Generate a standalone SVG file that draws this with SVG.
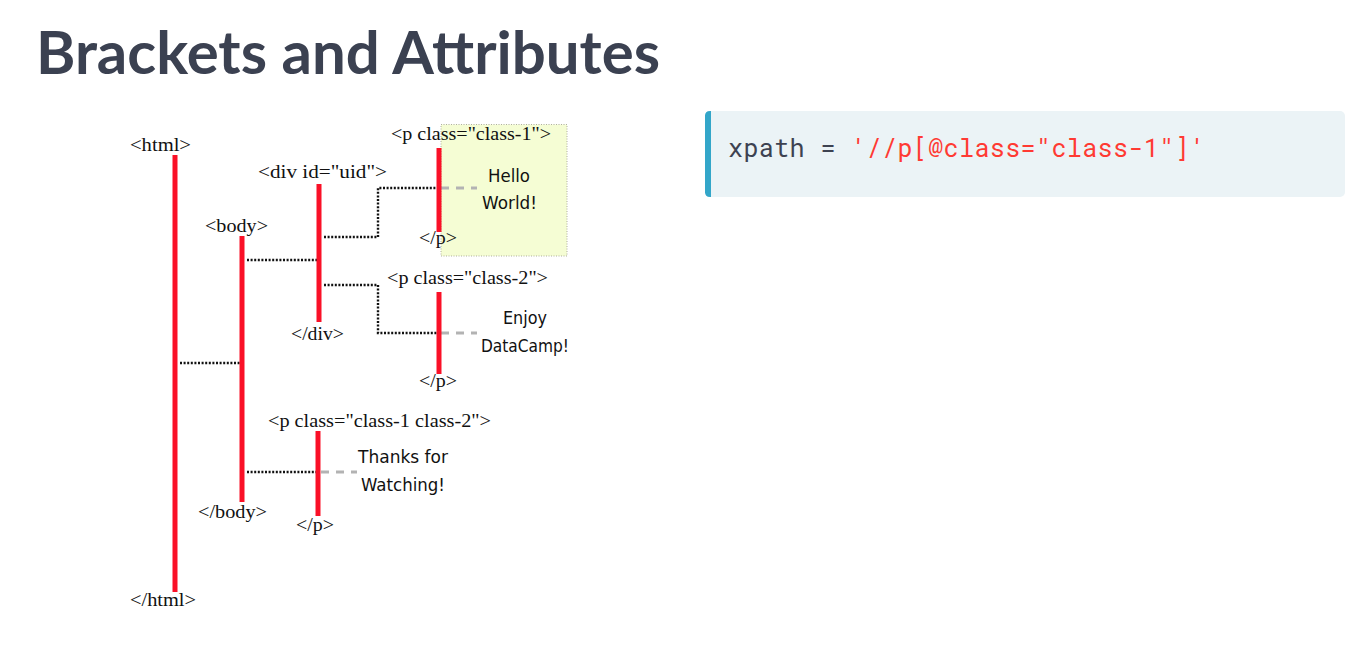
<svg xmlns="http://www.w3.org/2000/svg" width="1356" height="650" viewBox="0 0 1356 650">
  <defs>
    <style>
      .title { font-family: Lato, "Noto Sans", sans-serif; font-weight: 700; font-size: 60px; fill: #3b4151; }
      .tag { font-family: "Liberation Serif", "DejaVu Serif", serif; font-size: 19px; fill: #111; text-anchor: middle; }
      .txt { font-family: "DejaVu Sans", "Noto Sans", sans-serif; font-size: 17px; fill: #111; text-anchor: middle; }
      .bar { stroke: #fa1027; stroke-width: 5; fill: none; }
      .dot { stroke: #111; stroke-width: 2.4; stroke-dasharray: 2 1.6; fill: none; }
      .dash { stroke: #b3b3b3; stroke-width: 2.8; stroke-dasharray: 8 7; fill: none; }
      .code { font-family: "Roboto Mono", "DejaVu Sans Mono", monospace; font-size: 25px; }
    </style>
  </defs>

  <rect width="1356" height="650" fill="#ffffff"/>

  <text class="title" x="36" y="74" textLength="624" lengthAdjust="spacingAndGlyphs">Brackets and Attributes</text>

  <!-- highlight behind the selected paragraph -->
  <rect x="441" y="124.5" width="126" height="131.5" fill="#f5fdd4" stroke="#9a9a8a" stroke-width="0.8" stroke-dasharray="1 1.5"/>

  <!-- connectors -->
  <g id="connectors">
    <path class="dot" d="M180 363 H240"/>
    <path class="dot" d="M247 260 H317"/>
    <path class="dot" d="M324 237 H378 V188 H437"/>
    <path class="dot" d="M324 285 H378 V333 H437"/>
    <path class="dot" d="M247 472 H316"/>
    <path class="dash" d="M441 188 H477"/>
    <path class="dash" d="M441 333 H477"/>
    <path class="dash" d="M321 472 H357"/>
  </g>

  <g id="html">
    <line class="bar" x1="175" y1="155" x2="175" y2="592"/>
    <text class="tag" x="160.5" y="151" textLength="61" lengthAdjust="spacingAndGlyphs">&lt;html&gt;</text>
    <text class="tag" x="163" y="606" textLength="66" lengthAdjust="spacingAndGlyphs">&lt;/html&gt;</text>
  </g>

  <g id="body">
    <line class="bar" x1="242" y1="236" x2="242" y2="502"/>
    <text class="tag" x="236.5" y="232" textLength="63" lengthAdjust="spacingAndGlyphs">&lt;body&gt;</text>
    <text class="tag" x="232.5" y="518" textLength="69" lengthAdjust="spacingAndGlyphs">&lt;/body&gt;</text>
  </g>

  <g id="div">
    <line class="bar" x1="319" y1="184" x2="319" y2="322"/>
    <text class="tag" x="322.5" y="178" textLength="129" lengthAdjust="spacingAndGlyphs">&lt;div id="uid"&gt;</text>
    <text class="tag" x="317.5" y="340" textLength="53" lengthAdjust="spacingAndGlyphs">&lt;/div&gt;</text>
  </g>

  <g id="p-class-1">
    <line class="bar" x1="439" y1="148" x2="439" y2="232"/>
    <text class="tag" x="471" y="140" textLength="160" lengthAdjust="spacingAndGlyphs">&lt;p class="class-1"&gt;</text>
    <text class="tag" x="438" y="244" textLength="38" lengthAdjust="spacingAndGlyphs">&lt;/p&gt;</text>
    <text class="txt" x="509" y="182" textLength="42" lengthAdjust="spacingAndGlyphs">Hello</text>
    <text class="txt" x="509.5" y="209" textLength="55" lengthAdjust="spacingAndGlyphs">World!</text>
  </g>

  <g id="p-class-2">
    <line class="bar" x1="439" y1="292" x2="439" y2="374"/>
    <text class="tag" x="467.5" y="284" textLength="161" lengthAdjust="spacingAndGlyphs">&lt;p class="class-2"&gt;</text>
    <text class="tag" x="438" y="387" textLength="38" lengthAdjust="spacingAndGlyphs">&lt;/p&gt;</text>
    <text class="txt" x="525" y="324" textLength="44" lengthAdjust="spacingAndGlyphs">Enjoy</text>
    <text class="txt" x="525" y="352" textLength="88" lengthAdjust="spacingAndGlyphs">DataCamp!</text>
  </g>

  <g id="p-class-1-2">
    <line class="bar" x1="318" y1="431" x2="318" y2="516"/>
    <text class="tag" x="379.5" y="427" textLength="223" lengthAdjust="spacingAndGlyphs">&lt;p class="class-1 class-2"&gt;</text>
    <text class="tag" x="315" y="531" textLength="38" lengthAdjust="spacingAndGlyphs">&lt;/p&gt;</text>
    <text class="txt" x="403" y="463" textLength="90" lengthAdjust="spacingAndGlyphs">Thanks for</text>
    <text class="txt" x="403" y="491" textLength="84" lengthAdjust="spacingAndGlyphs">Watching!</text>
  </g>

  <g id="code-block">
    <rect x="705" y="111" width="640" height="86" rx="5" fill="#ebf3f6"/>
    <path d="M711 111 H710 Q705 111 705 116 V192 Q705 197 710 197 H711 Z" fill="#33a6c9"/>
    <rect x="705" y="115" width="6" height="78" fill="#33a6c9"/>
    <text class="code" x="728" y="157" textLength="477" lengthAdjust="spacing"><tspan fill="#3d4251">xpath = </tspan><tspan fill="#ff3a33">'//p[@class="class-1"]'</tspan></text>
  </g>
</svg>
